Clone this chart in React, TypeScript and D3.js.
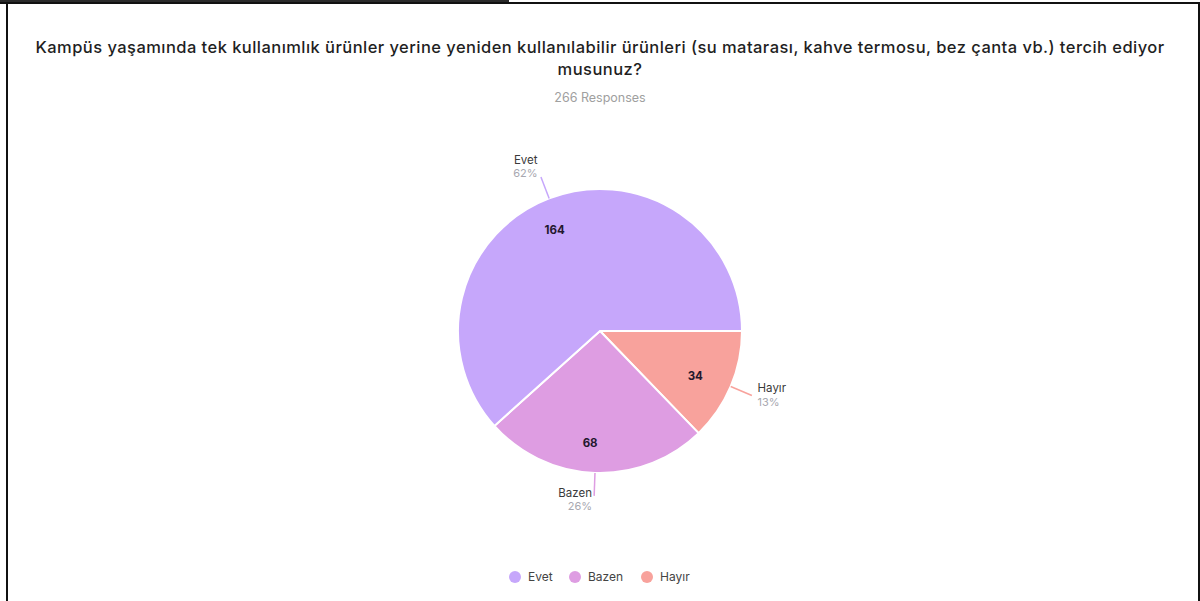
import React from "react";
import * as d3 from "d3";

const titleLines: string[] = [
  "Kampüs yaşamında tek kullanımlık ürünler yerine yeniden kullanılabilir ürünleri (su matarası, kahve termosu, bez çanta vb.) tercih ediyor",
  "musunuz?",
];
const subtitle = "266 Responses";
const categories: string[] = ["Evet", "Bazen", "Hayır"];
const counts: number[] = [164, 68, 34];
const percents: string[] = ["62%", "26%", "13%"];
const colors: string[] = ["#C6A7FB", "#DE9DE2", "#F8A29C"];
// clockwise drawing order starting at 3 o'clock
const drawOrder: string[] = ["Hayır", "Bazen", "Evet"];

const W = 1200;
const H = 601;
const cx = 600;
const cy = 331;
const R = 142;
const FONT = "Inter, 'Noto Sans', sans-serif";

type Datum = { name: string; value: number; pct: string; color: string };

export default function App() {
  const data: Datum[] = drawOrder.map((n) => {
    const i = categories.indexOf(n);
    return { name: n, value: counts[i], pct: percents[i], color: colors[i] };
  });
  const pie = d3
    .pie<Datum>()
    .sort(null)
    .value((d) => d.value)
    .startAngle(Math.PI / 2)
    .endAngle(Math.PI / 2 + 2 * Math.PI);
  const arcs = pie(data);
  const arcGen = d3.arc<d3.PieArcDatum<Datum>>().innerRadius(0).outerRadius(R);
  const labelArc = d3.arc<d3.PieArcDatum<Datum>>().innerRadius(110).outerRadius(110);

  const legendX = d3
    .scaleOrdinal<string, number>()
    .domain(categories)
    .range([515, 575, 647]);

  return (
    <div style={{ position: "absolute", left: 0, top: 0 }}>
      <svg width={W} height={H} style={{ display: "block" }}>
        <rect x={0} y={0} width={W} height={H} fill="#fff" />
        {/* frame */}
        <rect x={0} y={0} width={509} height={3} fill="#2a2a2a" />
        <rect x={0} y={2} width={W} height={2} fill="#111" />
        <rect x={6} y={2} width={2} height={H} fill="#111" />
        <rect x={1198} y={2} width={2} height={H} fill="#111" />

        {/* title */}
        <text
          x={cx}
          textAnchor="middle"
          fontFamily={FONT}
          fontSize={16.5}
          fontWeight={500}
          letterSpacing={0.45}
          fill="#1f1f1f"
        >
          {titleLines.map((t, i) => (
            <tspan key={i} x={cx} y={53 + i * 22}>
              {t}
            </tspan>
          ))}
        </text>
        <text x={cx} y={102} textAnchor="middle" fontFamily={FONT} fontSize={12.5} fill="#a0a0a0">
          {subtitle}
        </text>

        {/* pie */}
        <g transform={`translate(${cx},${cy})`}>
          {arcs.map((a) => (
            <path key={a.data.name} d={arcGen(a) || ""} fill={a.data.color} stroke="#fff" strokeWidth={2} />
          ))}
          {arcs.map((a) => {
            const [x, y] = labelArc.centroid(a);
            return (
              <text
                key={"v" + a.data.name}
                x={x - 6}
                y={y + 2}
                dy="0.35em"
                textAnchor="middle"
                fontFamily={FONT}
                fontSize={11.5}
                fontWeight={700}
                fill="#24182e"
              >
                {a.data.value}
              </text>
            );
          })}
          {arcs.map((a) => {
            const m = (a.startAngle + a.endAngle) / 2;
            const s = Math.sin(m);
            const c = Math.cos(m);
            const x1 = s * R;
            const y1 = -c * R;
            const x2 = s * 165;
            const y2 = -c * 165;
            const right = s >= 0;
            const tx = x2 + (right ? 1 : -1) * (2 + 4 * Math.abs(s));
            const ny = y2 - 6.25 - 7.25 * c;
            return (
              <g key={"l" + a.data.name}>
                <line x1={x1} y1={y1} x2={x2} y2={y2} stroke={a.data.color} strokeWidth={1.5} />
                <text
                  x={tx}
                  y={ny}
                  textAnchor={right ? "start" : "end"}
                  fontFamily={FONT}
                  fontSize={11.5}
                  fill="#3a3a3a"
                >
                  {a.data.name}
                </text>
                <text
                  x={tx}
                  y={ny + 13.5}
                  textAnchor={right ? "start" : "end"}
                  fontFamily={FONT}
                  fontSize={11}
                  fill="#a8a8b0"
                >
                  {a.data.pct}
                </text>
              </g>
            );
          })}
        </g>

        {/* legend */}
        {categories.map((n, i) => (
          <g key={"lg" + n} transform={`translate(${legendX(n)},577)`}>
            <circle r={6} fill={colors[i]} />
            <text x={13} dy="0.35em" fontFamily={FONT} fontSize={12} fill="#444">
              {n}
            </text>
          </g>
        ))}
      </svg>
    </div>
  );
}
